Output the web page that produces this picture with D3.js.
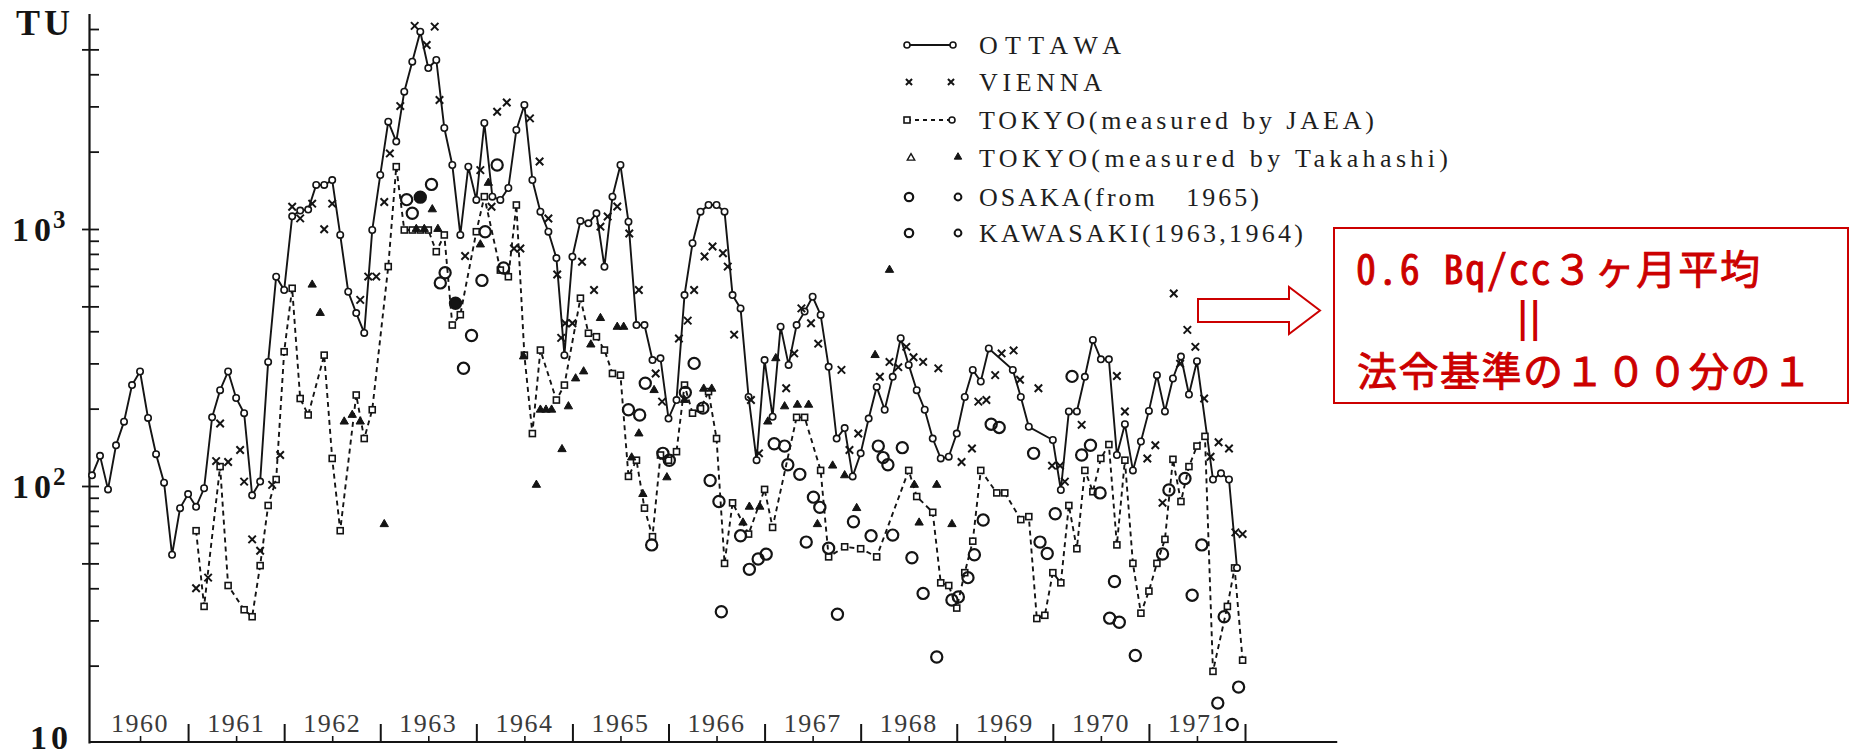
<!DOCTYPE html>
<html><head><meta charset="utf-8">
<script src="https://cdn.jsdelivr.net/npm/d3@7"></script>
<style>
html,body{margin:0;padding:0;background:#fff;}
svg{display:block;}
</style></head>
<body>
<svg id="chart" width="1850" height="755"></svg>
<script>
// ---------------- DATA ----------------
const years = [1960,1961,1962,1963,1964,1965,1966,1967,1968,1969,1970,1971];
const yearLabels = ["1960","1961","1962","1963","1964","1965","1966","1967","1968","1969","1970","1971"];
const yTickValues = [20,30,40,50,60,70,80,90,100,200,300,400,500,600,700,800,900,1000,2000,3000,4000,5000,6000];
const yMajorTicks = [50,100,500,1000,5000];

// OTTAWA: monthly values Jan 1960 .. Dec 1971 (null = no point)
const ottawa = [
 110,131,97,144,178,247,279,184,133,103,54,82,
 93,83,98,185,236,279,220,192,92,104,304,652,
 579,1120,1180,1190,1484,1484,1550,948,570,471,394,991,
 1622,2616,2188,3422,4477,5858,4230,4546,2472,1774,948,1747,
 1297,2585,1336,1297,1444,2428,3038,1551,1168,976,771,323,
 780,1075,1052,1151,713,1336,1774,1067,423,423,309,314,
 183,216,553,880,1168,1240,1240,1168,553,491,222,126,
 309,186,417,296,423,477,545,463,291,153,168,109,
 134,183,243,198,266,376,296,236,198,153,128,130,
 160,222,283,255,343,null,null,283,222,170,null,null,
 151,96.5,195,195,266,370,311,311,132,174,115,149,
 196,270,195,262,319,227,306,null,106,112,106,48
];

// VIENNA: month index (0 = Jan 1960) and TU
const viennaMonth = [13,14.5,15.5,16,17,18.5,19,20,21,22.5,23.5,
 25,26,27.5,29,30,33.5,34.5,35.5,36.5,37.2,38.5,40.3,41.8,42.8,43.4,46.6,48.5,49.9,50.6,51.8,52.7,53.5,54.7,55.9,57,58.1,58.6,59.1,60,
 61.2,62.7,63.5,64.4,65.6,67.1,68.3,70.4,71.2,73.3,74.4,75.2,76.5,77.5,78.8,79.4,80.2,82.3,83.3,
 86.7,87.7,88.6,89.8,90.7,93.6,94.6,95.7,98.4,99.6,100.7,101.7,102.6,103.8,105.7,108.6,109.9,110.7,111.7,112.8,113.6,115.1,115.9,118.2,
 119.9,120.9,121.5,123.6,128,129,131.8,132.8,133.7,135.1,135.9,136.8,137.8,138.9,139.7,140.7,142,142.8,143.7];
const viennaTU = [40,44,125,175,124,138,104,62,56,101,132,
 1221,1100,1255,998,1255,530,653,653,1273,1968,3008,6170,5200,6130,3178,785,1695,1221,2860,3105,840,840,2694,1830,1099,665,377,430,430,
 746,579,1021,1118,1223,960,579,274,213,375,440,579,782,855,805,714,388,216,134,
 240,328,491,430,358,283,138,160,266,304,290,348,317,304,287,124,140,213,216,270,328,337,259,240,
 120,120,104,173,268,195,128,144,86,561,299,405,348,219,130,148,140,66,65];

// TOKYO (measured by JAEA): dashed series
const jaeaMonth = [13,14,16,17,19,20,21,22,23,
 24,25,26,27,29,30,31,33,34,35,
 37,38,39,40,41,42,43,44,45,46,
 48,49,51,52,53,54,55,56,58,59,
 61,62,63,64,65,66,67,68,69,70,71,
 72,73,74,75,76,77,78,79,80,82,
 84,85,88,89,91,92,94,96,98,
 102,103,105,106,107,108,109,110,111,113,114,116,117,118,119,
 120,121,122,123,124,125,126,127,128,129,130,131,
 132,133,134,135,136,137,138,139,140,141.8,142.7,143.7];
const jaeaTU = [67,34,119,41,33,31,49,84,106,
 333,588,219,189,323,128,67,226,153,198,
 714,1748,991,991,991,991,816,948,423,464,
 976,1336,692,652,1240,323,160,338,216,247,
 538,393,381,338,274,270,109,126,82,63.5,132,
 126,136,247,192,200,233,153,50,86,65,
 97,69,185,185,115,53,58,57,53,
 115,91,79,42,41,33.5,46,61,115,94,94,74,76,30.5,31.4,
 46,42,84,57,115,95,128,145,59,126,50,32,
 39,50,62,127,87,119,143,156,19,34,48,21];

// TOKYO (measured by Takahashi): triangles
const takahashiMonth = [27.5,28.5,31.5,32.5,33.5,36.5,40.5,41.5,42.5,43.2,48.5,49.5,53.9,55.5,56,56.7,57.4,58.7,59.5,60.4,61.4,
 62.3,63.5,65.6,66.4,67.4,68.3,68.8,70.2,71.8,74,76.4,77.4,81.3,82.1,83.4,84.4,85.4,86.5,88.1,89.5,90.6,92.5,94,95.5,97.8,99.6,102.7,103.3,105.5,107.4];
const takahashiTU = [607,471,178,189,178,71,1000,1000,1192,1000,870,1511,319,101,198,198,198,139,204,262,279,
 355,450,416,416,129,160,93,236,108,216,239,239,72,83,83,178,314,204,207,207,71,120,110,82,323,693,101,72,101,71];

// OSAKA (from 1965): open circles
const osakaMonth = [67,68.4,69.1,69.9,71.3,72.1,74.1,75.2,76.3,77.2,78.3,78.6,81,82.1,83.2,84.2,85.2,86.5,86.9,88.4,89.2,90.1,90.9,92,93.1,95.1,97.3,
 98.2,98.8,99.4,100,101.2,102.4,103.8,105.5,107.4,108.2,109.4,110.2,111.3,112.3,113.3,117.6,118.4,119.3,120.3,122.4,123.6,124.7,125.9,127.1,127.7,128.3,
 130.3,133.7,134.5,136.5,137.4,138.6,140.6,141.4,142.4,143.2];
const osakaTU = [198,189,251,59,134,126,231,300,201,105,87,32.4,64,47.4,52,54.3,146,143,121,111,60.5,90.5,82.6,57.3,31.7,72.6,64,
 143,129,121,64.4,141,52.6,38.2,21.6,36,37,44,54,73.7,174,169,134,60.5,54.6,78,267,132,144,94,30.6,42.5,29.5,
 21.9,54.4,96.5,107,37.6,59,14.3,31,11.8,16.5];

// KAWASAKI (1963, 1964): open circles (two filled)
const kawasakiMonth = [39.3,40,41,42.4,43.5,44.1,45.4,46.4,47.4,48.7,49.1,50.6,51.4];
const kawasakiTU = [1301,1152,1330,1491,617,676,514,287,385,631,976,1775,705];
const kawasakiFilled = [false,false,true,false,false,false,true,false,false,false,false,false,false];

const legendLabels = ["OTTAWA","VIENNA","TOKYO(measured by JAEA)","TOKYO(measured by Takahashi)","OSAKA(from\u00a0\u00a0 1965)","KAWASAKI(1963,1964)"];
const legendWidths = [142,123,395,469,280,324];

const noteLine1 = "0.6 Bq/cc３ヶ月平均";
const noteLine2 = "||";
const noteLine3 = "法令基準の１００分の１";

// ---------------- DRAW ----------------
const svg = d3.select("#chart");
const ink = "#141414";
const serif = "'Liberation Serif','Times New Roman',serif";

const x = d3.scaleLinear().domain([1960, 1972]).range([92, 1245]);
const tOf = k => 1960 + k / 12;
const yTop = 6900;
const y = d3.scaleLog().domain([10, yTop]).range([743, 743 - 257 * Math.log10(yTop / 10)]);
const axisX = 89;
const axisY = y(10) - 1;

// Y axis (right-pointing ticks + domain line)
const gy = svg.append("g").attr("transform", `translate(${axisX},0)`);
gy.call(d3.axisRight(y).tickValues(yTickValues).tickSize(10).tickSizeOuter(0).tickFormat(() => ""));
gy.selectAll("path.domain").attr("stroke", ink).attr("stroke-width", 2.2);
gy.selectAll(".tick line").attr("stroke", ink).attr("stroke-width", 1.8);
const gy2 = svg.append("g").attr("transform", `translate(${axisX},0)`);
gy2.call(d3.axisLeft(y).tickValues(yMajorTicks).tickSize(7).tickFormat(() => ""));
gy2.select("path.domain").remove();
gy2.selectAll(".tick line").attr("stroke", ink).attr("stroke-width", 1.8);

// Y labels
svg.append("text").attr("x", 16).attr("y", 35).attr("font-family", serif).attr("font-weight", "bold")
  .attr("font-size", 36).attr("fill", ink).attr("letter-spacing", 4).text("TU");
function powLabel(v, exp) {
  const t = svg.append("text").attr("x", 12).attr("y", y(v) + 12).attr("font-family", serif)
    .attr("font-weight", "bold").attr("font-size", 34).attr("fill", ink).attr("letter-spacing", 5);
  t.append("tspan").text("10");
  t.append("tspan").attr("dx", -3).attr("dy", -13).attr("font-size", 25).attr("letter-spacing", 0).text(exp);
}
powLabel(1000, "3");
powLabel(100, "2");
svg.append("text").attr("x", 30).attr("y", 749).attr("font-family", serif).attr("font-weight", "bold")
  .attr("font-size", 34).attr("fill", ink).attr("letter-spacing", 4).text("10");

// X axis
svg.append("line").attr("x1", axisX).attr("x2", x(1972.96)).attr("y1", axisY).attr("y2", axisY)
  .attr("stroke", ink).attr("stroke-width", 2.2);
const gx = svg.append("g").attr("transform", `translate(0,${axisY})`);
gx.call(d3.axisTop(x).tickValues(years.map(v => v + 1)).tickSize(18).tickSizeOuter(0).tickFormat(() => ""));
gx.select("path.domain").remove();
gx.selectAll(".tick line").attr("stroke", ink).attr("stroke-width", 2);
const gx2 = svg.append("g").attr("transform", `translate(0,${axisY})`);
gx2.call(d3.axisTop(x).tickValues(years.map(v => v + 0.5)).tickSize(6).tickFormat(() => ""));
gx2.select("path.domain").remove();
gx2.selectAll(".tick line").attr("stroke", ink).attr("stroke-width", 1.6);
svg.append("g").selectAll("text").data(years).join("text")
  .attr("x", d => x(d + 0.5)).attr("y", 732).attr("text-anchor", "middle")
  .attr("font-family", serif).attr("font-size", 26).attr("fill", "#3a3a3a").attr("letter-spacing", 1.5)
  .text((d, i) => yearLabels[i]);

// Series data
const ottPts = ottawa.map((v, k) => ({k, v})).filter(d => d.v != null);
const jaeaPts = jaeaMonth.map((k, i) => ({k, v: jaeaTU[i]}));
const line = d3.line().x(d => x(tOf(d.k))).y(d => y(d.v));

svg.append("path").datum(jaeaPts).attr("d", line).attr("fill", "none")
  .attr("stroke", ink).attr("stroke-width", 1.9).attr("stroke-dasharray", "5,4");
svg.append("path").datum(ottPts).attr("d", line).attr("fill", "none")
  .attr("stroke", ink).attr("stroke-width", 1.9);

svg.append("g").selectAll("rect").data(jaeaPts).join("rect")
  .attr("x", d => x(tOf(d.k)) - 3).attr("y", d => y(d.v) - 3).attr("width", 6).attr("height", 6)
  .attr("fill", "#fff").attr("stroke", ink).attr("stroke-width", 1.6);
svg.append("g").selectAll("circle").data(ottPts).join("circle")
  .attr("cx", d => x(tOf(d.k))).attr("cy", d => y(d.v)).attr("r", 3.2)
  .attr("fill", "#fff").attr("stroke", ink).attr("stroke-width", 1.6);

const cross = d3.symbol().type(d3.symbolX).size(38);
svg.append("g").selectAll("path").data(viennaMonth.map((k, i) => ({k, v: viennaTU[i]}))).join("path")
  .attr("transform", d => `translate(${x(tOf(d.k))},${y(d.v)})`).attr("d", cross)
  .attr("fill", "none").attr("stroke", ink).attr("stroke-width", 2);

const tri = d3.symbol().type(d3.symbolTriangle).size(30);
svg.append("g").selectAll("path").data(takahashiMonth.map((k, i) => ({k, v: takahashiTU[i]}))).join("path")
  .attr("transform", d => `translate(${x(tOf(d.k))},${y(d.v)})`).attr("d", tri)
  .attr("fill", ink).attr("stroke", ink).attr("stroke-width", 1);

svg.append("g").selectAll("circle").data(osakaMonth.map((k, i) => ({k, v: osakaTU[i]}))).join("circle")
  .attr("cx", d => x(tOf(d.k))).attr("cy", d => y(d.v)).attr("r", 5.6)
  .attr("fill", "none").attr("stroke", ink).attr("stroke-width", 2.2);
svg.append("g").selectAll("circle").data(kawasakiMonth.map((k, i) => ({k, v: kawasakiTU[i], f: kawasakiFilled[i]}))).join("circle")
  .attr("cx", d => x(tOf(d.k))).attr("cy", d => y(d.v)).attr("r", 5.6)
  .attr("fill", d => d.f ? ink : "none").attr("stroke", ink).attr("stroke-width", 2.2);

// Legend
const lg = svg.append("g");
const rowY = [45, 82, 120, 158, 197, 233];
const sx1 = 907, sx2 = 953;
lg.append("line").attr("x1", sx1).attr("x2", sx2).attr("y1", rowY[0]).attr("y2", rowY[0]).attr("stroke", ink).attr("stroke-width", 1.9);
[sx1, sx2].forEach(px => lg.append("circle").attr("cx", px).attr("cy", rowY[0]).attr("r", 3).attr("fill", "#fff").attr("stroke", ink).attr("stroke-width", 1.6));
[sx1 + 2, sx2 - 2].forEach(px => lg.append("path").attr("transform", `translate(${px},${rowY[1]})`).attr("d", d3.symbol().type(d3.symbolX).size(26)()).attr("fill", "none").attr("stroke", ink).attr("stroke-width", 2));
lg.append("line").attr("x1", sx1).attr("x2", sx2).attr("y1", rowY[2]).attr("y2", rowY[2]).attr("stroke", ink).attr("stroke-width", 1.8).attr("stroke-dasharray", "4,4");
lg.append("rect").attr("x", sx1 - 3).attr("y", rowY[2] - 3).attr("width", 6).attr("height", 6).attr("fill", "#fff").attr("stroke", ink).attr("stroke-width", 1.6);
lg.append("circle").attr("cx", sx2 - 1).attr("cy", rowY[2]).attr("r", 3).attr("fill", "#fff").attr("stroke", ink).attr("stroke-width", 1.6);
lg.append("path").attr("transform", `translate(${sx1 + 4},${rowY[3]})`).attr("d", d3.symbol().type(d3.symbolTriangle).size(24)()).attr("fill", "none").attr("stroke", ink).attr("stroke-width", 1.4);
lg.append("path").attr("transform", `translate(${sx2 + 5},${rowY[3] - 1})`).attr("d", d3.symbol().type(d3.symbolTriangle).size(24)()).attr("fill", ink).attr("stroke", ink).attr("stroke-width", 1);
[4, 5].forEach(r => {
  lg.append("circle").attr("cx", sx1 + 2).attr("cy", rowY[r]).attr("r", 4.2).attr("fill", "none").attr("stroke", ink).attr("stroke-width", 2.2);
  lg.append("circle").attr("cx", sx2 + 5).attr("cy", rowY[r]).attr("r", 3.4).attr("fill", "none").attr("stroke", ink).attr("stroke-width", 2);
});
lg.selectAll("text").data(legendLabels).join("text")
  .attr("x", 979).attr("y", (d, i) => rowY[i] + 9)
  .attr("font-family", serif).attr("font-size", 26).attr("fill", "#1e1e1e")
  .attr("textLength", (d, i) => legendWidths[i]).attr("lengthAdjust", "spacing")
  .text(d => d);

// Red annotation
const red = "#cc0000";
const cjk = "'Noto Sans Mono CJK JP','Noto Sans CJK JP',sans-serif";
svg.append("polygon")
  .attr("points", [[1198,299],[1289,299],[1289,287],[1320,310.5],[1289,334],[1289,322],[1198,322]].map(p => p.join(",")).join(" "))
  .attr("fill", "#fff").attr("stroke", red).attr("stroke-width", 2);
svg.append("rect").attr("x", 1334).attr("y", 228).attr("width", 514).attr("height", 175)
  .attr("fill", "none").attr("stroke", red).attr("stroke-width", 2);
svg.append("text").attr("x", 1356).attr("y", 284).attr("font-family", cjk)
  .attr("font-size", 40).attr("fill", red).attr("stroke", red).attr("stroke-width", 0.9)
  .attr("textLength", 404).attr("lengthAdjust", "spacing").text(noteLine1);
svg.append("text").attr("transform", "translate(1529,331) scale(1,1.2)").attr("text-anchor", "middle")
  .attr("font-family", "'DejaVu Sans',sans-serif").attr("font-weight", "bold")
  .attr("font-size", 34).attr("fill", red).text(noteLine2);
svg.append("text").attr("x", 1357).attr("y", 386).attr("font-family", cjk)
  .attr("font-size", 40).attr("fill", red).attr("stroke", red).attr("stroke-width", 0.9)
  .attr("textLength", 455).attr("lengthAdjust", "spacing").text(noteLine3);
</script>
</body></html>
